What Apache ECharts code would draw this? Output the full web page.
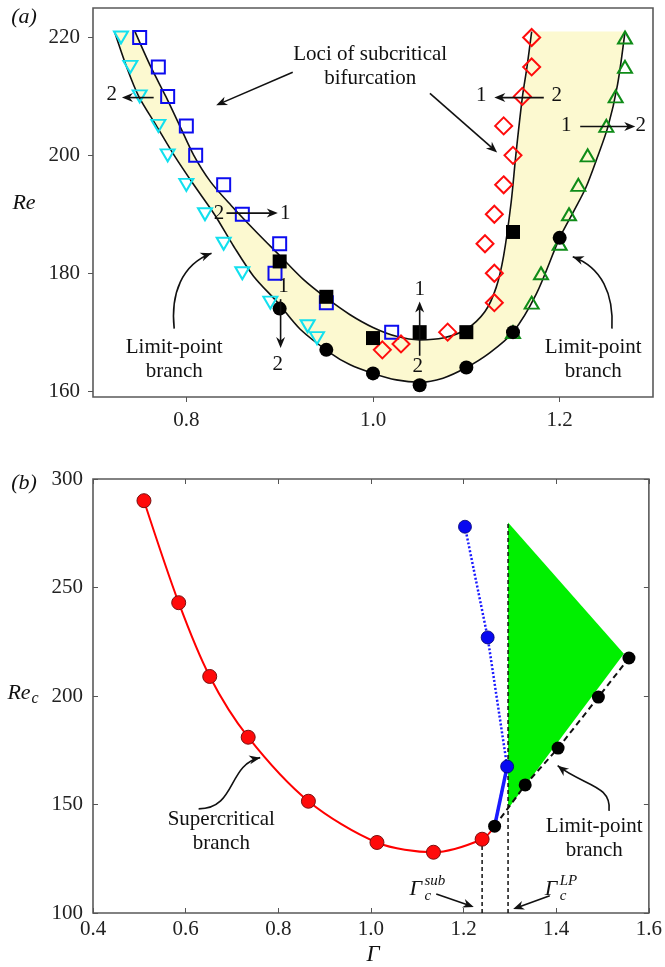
<!DOCTYPE html>
<html>
<head>
<meta charset="utf-8">
<script src="https://cdn.jsdelivr.net/npm/echarts@6.0.0/dist/echarts.min.js"></script>
<style>
html,body{margin:0;padding:0;background:#fff;}
#main{width:665px;height:967px;}
</style>
</head>
<body>
<div id="main"></div>
<script>
// ---------- Panel (a) data ----------
const aXTicks = [0.8, 1.0, 1.2];
const aYTicks = [160, 180, 200, 220];
const cyanDown = [[0.73,220],[0.74,215],[0.75,210],[0.77,205],[0.78,200],[0.80,195],[0.82,190],[0.84,185],[0.86,180],[0.89,175],[0.93,171],[0.94,169]];
const blueSquares = [[0.75,220],[0.77,215],[0.78,210],[0.80,205],[0.81,200],[0.84,195],[0.86,190],[0.90,185],[0.895,180],[0.95,175],[1.02,170]];
const redDiamonds = [[1.17,220],[1.17,215],[1.16,210],[1.14,205],[1.15,200],[1.14,195],[1.13,190],[1.12,185],[1.13,180],[1.13,175],[1.08,170],[1.03,168],[1.01,167]];
const greenUp = [[1.27,220],[1.27,215],[1.26,210],[1.25,205],[1.23,200],[1.22,195],[1.21,190],[1.20,185],[1.18,180],[1.17,175],[1.15,170]];
const blackSquares = [[0.90,182],[0.95,176],[1.00,169],[1.05,170],[1.10,170],[1.15,187]];
const blackCirclesA = [[0.90,174],[0.95,167],[1.00,163],[1.05,161],[1.10,164],[1.15,170],[1.20,186]];
const upperCurve = [[0.745,221],[0.762,215],[0.778,210],[0.793,205],[0.808,200],[0.826,195.5],[0.848,191.5],[0.875,187],[0.9,183],[0.925,179],[0.95,175.8],[0.975,173],[1.0,170.8],[1.025,169.3],[1.05,168.7],[1.075,169],[1.1,170.5],[1.12,173.5],[1.132,177.6],[1.14,183],[1.148,192],[1.153,200],[1.16,209.8],[1.165,215],[1.17,221]];
const lowerCurve = [[0.723,221],[0.736,215],[0.749,210],[0.768,205],[0.787,200],[0.808,195],[0.830,190],[0.851,184.5],[0.872,179.5],[0.898,175],[0.922,170.5],[0.954,166.5],[0.975,164.5],[1.0,163],[1.025,161.9],[1.05,161.5],[1.075,162.2],[1.1,164],[1.125,166.5],[1.15,170],[1.175,176.5],[1.2,186],[1.215,190.5],[1.228,194.5],[1.24,199.5],[1.252,205],[1.262,212],[1.27,221]];

// ---------- Panel (b) data ----------
const bXTicks = [0.4, 0.6, 0.8, 1.0, 1.2, 1.4, 1.6];
const bYTicks = [100, 150, 200, 250, 300];
const superCrit = [[0.51,290],[0.585,243],[0.652,209],[0.735,181],[0.865,151.5],[1.013,132.5],[1.135,128],[1.24,134]];
const blueSub = [[1.203,278],[1.252,227],[1.294,167.5]];
const limitPoint = [[1.267,140],[1.333,159],[1.404,176],[1.491,199.5],[1.557,217.5]];
const greenRegion = [[1.296,280],[1.546,219.5],[1.296,148]];
const gammaLP = 1.296, gammaLPTop = 280;
const gammaSub = 1.24, gammaSubTop = 134;

const SERIF = '"Liberation Serif","Times New Roman",serif';
const chart = echarts.init(document.getElementById('main'));

const poly = upperCurve.concat(lowerCurve.slice().reverse());
function openSym(color){ return {color:'rgba(0,0,0,0)', borderColor:color, borderWidth:2, opacity:1}; }
const labelStyle = {fontFamily:SERIF, fontSize:21, color:'#222'};

const option = {
  animation:false,
  backgroundColor:'#fff',
  grid:[
    {left:93, top:8, width:560, height:389, show:true, borderColor:'#5a5a5a', borderWidth:1.6, containLabel:false},
    {left:93, top:479, width:562, height:434, show:true, borderColor:'#5a5a5a', borderWidth:1.6, containLabel:false}
  ],
  xAxis:[
    {gridIndex:0, type:'value', min:0.7, max:1.3, splitLine:{show:false}, axisLine:{show:false},
     axisTick:{show:true, inside:false, length:5, lineStyle:{color:'#555'}, customValues:aXTicks},
     axisLabel:Object.assign({customValues:aXTicks, margin:13, formatter:v=>v.toFixed(1)}, labelStyle)},
    {gridIndex:1, type:'value', min:0.4, max:1.6, splitLine:{show:false}, axisLine:{show:false},
     axisTick:{show:true, inside:true, length:5, lineStyle:{color:'#555'}, customValues:bXTicks},
     axisLabel:Object.assign({customValues:bXTicks, margin:6, formatter:v=>v.toFixed(1)}, labelStyle)},
    {gridIndex:1, type:'value', position:'top', min:0.4, max:1.6, splitLine:{show:false}, axisLine:{show:false},
     axisTick:{show:true, inside:true, length:5, lineStyle:{color:'#555'}, customValues:bXTicks},
     axisLabel:{show:false}}
  ],
  yAxis:[
    {gridIndex:0, type:'value', min:159, max:225, splitLine:{show:false}, axisLine:{show:false},
     axisTick:{show:true, inside:false, length:5, lineStyle:{color:'#555'}, customValues:aYTicks},
     axisLabel:Object.assign({customValues:aYTicks, margin:13}, labelStyle)},
    {gridIndex:1, type:'value', min:100, max:300, splitLine:{show:false}, axisLine:{show:false},
     axisTick:{show:true, inside:true, length:5, lineStyle:{color:'#555'}, customValues:bYTicks},
     axisLabel:Object.assign({customValues:bYTicks, margin:10}, labelStyle)},
    {gridIndex:1, type:'value', position:'right', min:100, max:300, splitLine:{show:false}, axisLine:{show:false},
     axisTick:{show:true, inside:true, length:5, lineStyle:{color:'#555'}, customValues:bYTicks},
     axisLabel:{show:false}}
  ],
  series:[
    // ---- panel a ----
    {type:'custom', xAxisIndex:0, yAxisIndex:0, silent:true, z:1, data:[[1,190]],
     renderItem:(params, api)=>({type:'polygon', shape:{points:poly.map(p=>api.coord(p))}, style:{fill:'#FCF9D0'}})},
    {type:'line', xAxisIndex:0, yAxisIndex:0, data:upperCurve, smooth:0.3, showSymbol:false, silent:true, z:2,
     lineStyle:{color:'#111', width:1.6}},
    {type:'line', xAxisIndex:0, yAxisIndex:0, data:lowerCurve, smooth:0.3, showSymbol:false, silent:true, z:2,
     lineStyle:{color:'#111', width:1.6}},
    {type:'scatter', xAxisIndex:0, yAxisIndex:0, data:cyanDown, symbol:'triangle', symbolRotate:180, symbolSize:[14,12], z:3,
     itemStyle:openSym('#12e0ee')},
    {type:'scatter', xAxisIndex:0, yAxisIndex:0, data:blueSquares, symbol:'rect', symbolSize:13, z:3,
     itemStyle:openSym('#0c0cf0')},
    {type:'scatter', xAxisIndex:0, yAxisIndex:0, data:redDiamonds, symbol:'diamond', symbolSize:[17,17], z:3,
     itemStyle:openSym('#ff0c0c')},
    {type:'scatter', xAxisIndex:0, yAxisIndex:0, data:greenUp, symbol:'triangle', symbolSize:[14,12], z:3,
     itemStyle:openSym('#0f8c18')},
    {type:'scatter', xAxisIndex:0, yAxisIndex:0, data:blackSquares, symbol:'rect', symbolSize:14, z:4,
     itemStyle:{color:'#000', opacity:1}},
    {type:'scatter', xAxisIndex:0, yAxisIndex:0, data:blackCirclesA, symbol:'circle', symbolSize:14, z:4,
     itemStyle:{color:'#000', opacity:1}},
    // ---- panel b ----
    {type:'custom', xAxisIndex:1, yAxisIndex:1, silent:true, z:1, data:[[1.4,200]],
     renderItem:(params, api)=>({type:'polygon', shape:{points:greenRegion.map(p=>api.coord(p))}, style:{fill:'#00f000'}})},
    {type:'line', xAxisIndex:1, yAxisIndex:1, data:[[gammaLP,100],[gammaLP,gammaLPTop]], showSymbol:false, silent:true, z:2,
     lineStyle:{color:'#111', width:1.5, type:[4,3]}},
    {type:'line', xAxisIndex:1, yAxisIndex:1, data:[[gammaSub,100],[gammaSub,gammaSubTop]], showSymbol:false, silent:true, z:2,
     lineStyle:{color:'#111', width:1.5, type:[4,3]}},
    {type:'line', xAxisIndex:1, yAxisIndex:1, data:superCrit.concat([limitPoint[0]]), smooth:0.3, showSymbol:false, silent:true, z:3,
     lineStyle:{color:'#ff0000', width:2}},
    {type:'line', xAxisIndex:1, yAxisIndex:1, data:blueSub.concat([limitPoint[0]]), showSymbol:false, silent:true, z:3,
     lineStyle:{color:'#1a1aff', width:2.5, type:[2,2]}},
    {type:'line', xAxisIndex:1, yAxisIndex:1, data:[blueSub[blueSub.length-1], limitPoint[0]], showSymbol:false, silent:true, z:3,
     lineStyle:{color:'#1a1aff', width:3.5}},
    {type:'line', xAxisIndex:1, yAxisIndex:1, data:limitPoint, showSymbol:false, silent:true, z:3,
     lineStyle:{color:'#111', width:2, type:[6,4]}},
    {type:'scatter', xAxisIndex:1, yAxisIndex:1, data:superCrit, symbol:'circle', symbolSize:14, z:4,
     itemStyle:{color:'#ff0a0a', borderColor:'#7a1010', borderWidth:1, opacity:1}},
    {type:'scatter', xAxisIndex:1, yAxisIndex:1, data:blueSub, symbol:'circle', symbolSize:13, z:4,
     itemStyle:{color:'#0808f0', borderColor:'#000070', borderWidth:0.8, opacity:1}},
    {type:'scatter', xAxisIndex:1, yAxisIndex:1, data:limitPoint, symbol:'circle', symbolSize:13, z:4,
     itemStyle:{color:'#000', opacity:1}}
  ]
};
chart.setOption(option);

// ---------- annotations (data coordinates, converted to pixels) ----------
function P(g, x, y){ return chart.convertToPixel({gridIndex:g}, [x, y]); }
const els = [];
function txt(p, s, opt){
  els.push({type:'text', z:50, style:Object.assign({x:p[0], y:p[1], text:s, font:'21px '+SERIF, fill:'#111',
    align:'center', verticalAlign:'middle', lineHeight:24}, opt||{})});
}
function head(tip, from){
  const dx = tip[0]-from[0], dy = tip[1]-from[1], L = Math.hypot(dx,dy)||1;
  const ux = dx/L, uy = dy/L, hl = 11, hw = 4.5;
  const bx = tip[0]-ux*hl, by = tip[1]-uy*hl;
  els.push({type:'polygon', z:50, shape:{points:[tip,[bx-uy*hw, by+ux*hw],[tip[0]-ux*hl*0.7, tip[1]-uy*hl*0.7],[bx+uy*hw, by-ux*hw]]}, style:{fill:'#111'}});
}
function arrow(a, b){
  const dx=b[0]-a[0], dy=b[1]-a[1], L=Math.hypot(dx,dy);
  const e=[b[0]-dx/L*6, b[1]-dy/L*6];
  els.push({type:'line', z:50, shape:{x1:a[0], y1:a[1], x2:e[0], y2:e[1]}, style:{stroke:'#111', lineWidth:1.6}});
  head(b, a);
}
function curved(a, c1, c2, b){
  els.push({type:'bezierCurve', z:50, shape:{x1:a[0], y1:a[1], cpx1:c1[0], cpy1:c1[1], cpx2:c2[0], cpy2:c2[1], x2:b[0], y2:b[1]},
    style:{stroke:'#111', lineWidth:1.6, fill:null}});
  head(b, c2);
}
// panel a
txt(P(0,0.997,215.1), 'Loci of subcritical\nbifurcation');
arrow(P(0,0.914,214.1), P(0,0.832,208.5));
arrow(P(0,1.061,210.5), P(0,1.133,200.5));
txt(P(0,0.720,210.3), '2'); arrow(P(0,0.765,209.8), P(0,0.731,209.8));
txt(P(0,1.116,210.2), '1'); arrow(P(0,1.183,209.8), P(0,1.130,209.8)); txt(P(0,1.197,210.2), '2');
txt(P(0,1.207,205.1), '1'); arrow(P(0,1.222,204.9), P(0,1.281,204.9)); txt(P(0,1.287,205.1), '2');
txt(P(0,0.835,190.2), '2'); arrow(P(0,0.843,190.2), P(0,0.898,190.2)); txt(P(0,0.906,190.2), '1');
txt(P(0,0.904,177.7), '1'); arrow(P(0,0.901,175.6), P(0,0.901,167.3)); txt(P(0,0.898,164.5), '2');
txt(P(0,1.050,177.2), '1'); arrow(P(0,1.050,166.0), P(0,1.050,175.2)); txt(P(0,1.048,164.1), '2');
txt(P(0,0.787,165.3), 'Limit-point\nbranch');
curved(P(0,0.787,170.6), P(0,0.783,176.5), P(0,0.795,181.5), P(0,0.827,183.4));
txt(P(0,1.236,165.3), 'Limit-point\nbranch');
curved(P(0,1.256,170.6), P(0,1.258,176.5), P(0,1.245,181), P(0,1.214,182.8));
// panel b
txt(P(1,0.677,137.4), 'Supercritical\nbranch');
curved(P(1,0.628,148.0), P(1,0.710,148.0), P(1,0.690,168.5), P(1,0.761,171.6));
txt(P(1,1.482,134.2), 'Limit-point\nbranch');
curved(P(1,1.514,147.1), P(1,1.520,159.0), P(1,1.460,158.5), P(1,1.403,167.9));
const gs = P(1,1.083,111.1);
txt(gs, 'Γ', {align:'left', font:'italic 22px '+SERIF});
txt([gs[0]+15, gs[1]-8], 'sub', {align:'left', font:'italic 15px '+SERIF});
txt([gs[0]+15, gs[1]+7], 'c', {align:'left', font:'italic 15px '+SERIF});
arrow(P(1,1.141,108.8), P(1,1.222,102.8));
const gl = P(1,1.375,111.1);
txt(gl, 'Γ', {align:'left', font:'italic 22px '+SERIF});
txt([gl[0]+15, gl[1]-8], 'LP', {align:'left', font:'italic 15px '+SERIF});
txt([gl[0]+15, gl[1]+7], 'c', {align:'left', font:'italic 15px '+SERIF});
arrow(P(1,1.386,107.9), P(1,1.307,101.8));
// panel labels and axis titles
txt([24,17], '(a)', {font:'italic 22px '+SERIF});
txt([24,483], '(b)', {font:'italic 22px '+SERIF});
txt([24,203], 'Re', {font:'italic 22px '+SERIF});
txt([19,693], 'Re', {font:'italic 22px '+SERIF});
txt([35,699], 'c', {font:'italic 16px '+SERIF});
txt([373,955], 'Γ', {font:'italic 23px '+SERIF});

chart.setOption({graphic:{elements:els}});
</script>
</body>
</html>
